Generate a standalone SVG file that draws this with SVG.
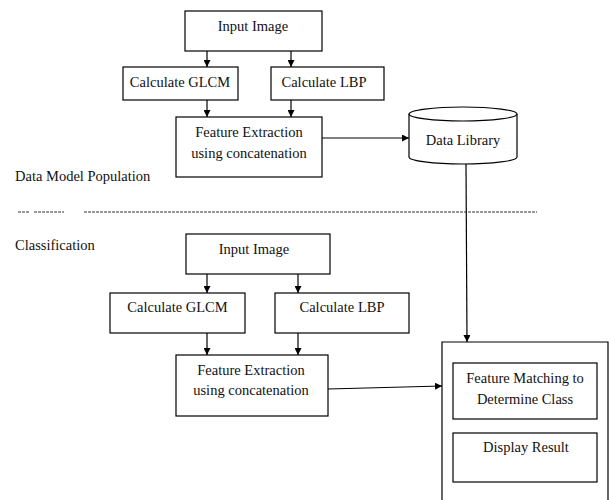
<svg xmlns="http://www.w3.org/2000/svg" width="609" height="500" viewBox="0 0 609 500">
<style>
.box{fill:#fff;stroke:#000;stroke-width:1.2}
.t{font-family:"Liberation Serif","DejaVu Serif",serif;font-size:14.5px;fill:#111;text-anchor:middle}
.l{font-family:"Liberation Serif","DejaVu Serif",serif;font-size:14.5px;fill:#111}
.c{stroke:#000;stroke-width:1.2;fill:none}
</style>
<defs>
<marker id="ah" viewBox="0 0 10 10" refX="10" refY="5" markerWidth="7" markerHeight="7" markerUnits="userSpaceOnUse" orient="auto">
<path d="M0,0 L10,5 L0,10 Z" fill="#000"/>
</marker>
</defs>
<rect width="609" height="500" fill="#fff"/>
<g id="labels">
<text class="l" x="15" y="181" font-family="Liberation Serif, serif">Data Model Population</text>
<text class="l" x="15" y="250" font-family="Liberation Serif, serif">Classification</text>
<line x1="18" y1="212" x2="30" y2="212" stroke="#000" stroke-width="0.8" stroke-dasharray="3,1"/>
<line x1="34" y1="212" x2="64" y2="212" stroke="#000" stroke-width="0.8" stroke-dasharray="3,1"/>
<line x1="84" y1="212" x2="537" y2="212" stroke="#000" stroke-width="0.8" stroke-dasharray="3,1"/>
</g>
<g id="input1"><rect class="box" x="185" y="11" width="137" height="40"/><text class="t" x="253" y="31">Input Image</text></g>
<g id="glcm1"><rect class="box" x="123" y="67" width="115" height="33"/><text class="t" x="180" y="87">Calculate GLCM</text></g>
<g id="lbp1"><rect class="box" x="271" y="67" width="113" height="33"/><text class="t" x="324" y="87">Calculate LBP</text></g>
<g id="feat1"><rect class="box" x="176" y="117" width="146" height="60"/><text class="t" x="249" y="137">Feature Extraction</text><text class="t" x="249" y="158">using concatenation</text></g>
<g id="datalib">
<path class="box" d="M409,114 V157 A54,7 0 0 0 517,157 V114"/>
<ellipse class="box" cx="463" cy="114" rx="54" ry="7"/>
<text class="t" x="463" y="145">Data Library</text>
</g>
<g id="input2"><rect class="box" x="186" y="234" width="144" height="40"/><text class="t" x="254" y="254">Input Image</text></g>
<g id="glcm2"><rect class="box" x="110" y="293" width="135" height="40"/><text class="t" x="177.5" y="312">Calculate GLCM</text></g>
<g id="lbp2"><rect class="box" x="275" y="293" width="134" height="40"/><text class="t" x="342" y="312">Calculate LBP</text></g>
<g id="feat2"><rect class="box" x="176" y="355" width="152" height="61"/><text class="t" x="251" y="375">Feature Extraction</text><text class="t" x="251" y="395">using concatenation</text></g>
<g id="classify">
<path class="box" d="M442,501 V342 H608 V501"/>
</g>
<g id="match"><rect class="box" x="453" y="363" width="144" height="56"/><text class="t" x="525" y="383">Feature Matching to</text><text class="t" x="525" y="404">Determine Class</text></g>
<g id="display"><rect class="box" x="453" y="433" width="144" height="49"/><text class="t" x="526" y="452">Display Result</text></g>
<g id="connectors">
<line class="c" x1="207" y1="51" x2="207" y2="67" marker-end="url(#ah)"/>
<line class="c" x1="291" y1="51" x2="291" y2="67" marker-end="url(#ah)"/>
<line class="c" x1="207" y1="100" x2="207" y2="117" marker-end="url(#ah)"/>
<line class="c" x1="291" y1="100" x2="291" y2="117" marker-end="url(#ah)"/>
<line class="c" x1="322" y1="138" x2="409" y2="138" marker-end="url(#ah)"/>
<line class="c" x1="207" y1="274" x2="207" y2="293" marker-end="url(#ah)"/>
<line class="c" x1="298" y1="274" x2="298" y2="293" marker-end="url(#ah)"/>
<line class="c" x1="207" y1="333" x2="207" y2="355" marker-end="url(#ah)"/>
<line class="c" x1="298" y1="333" x2="298" y2="355" marker-end="url(#ah)"/>
<line class="c" x1="328" y1="389" x2="442" y2="386" marker-end="url(#ah)"/>
<line class="c" x1="466" y1="164" x2="467" y2="342" stroke="#555" marker-end="url(#ah)"/>
</g>
</svg>
